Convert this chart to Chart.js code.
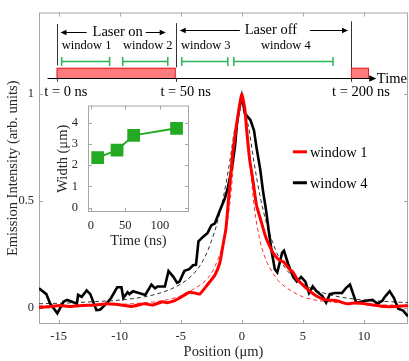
<!DOCTYPE html>
<html>
<head>
<meta charset="utf-8">
<script src="https://cdn.jsdelivr.net/npm/chart.js@4.4.0/dist/chart.umd.min.js"></script>
<style>
  html, body { margin: 0; padding: 0; background: #fff; }
  #wrap { position: relative; width: 409px; height: 361px; }
  #main { position: absolute; left: 0; top: 0; }
  #inset { position: absolute; left: 50px; top: 88px; }
</style>
</head>
<body>
<div id="wrap">
  <canvas id="main" width="409" height="361"></canvas>
  <canvas id="inset" width="148" height="162"></canvas>
</div>
<script>
// ---- data ----
const posTicks = [-15, -10, -5, 0, 5, 10];
const intensityTicks = [0, 0.5, 1];

// window 1 (red, solid)
const w1Pos = [-16.6, -15.5, -15, -14, -13, -12, -11, -10, -9, -8, -7.3, -6.5, -6.15, -5.6, -5.1, -4.3, -3.85, -3.45,
  -2.8, -2.2, -1.8, -1.55, -1.3, -1.1, -0.75, -0.4, -0.15, 0, 0.25, 0.4, 0.65, 0.9, 1.2, 1.5, 1.9, 2.1, 2.55, 3.1,
  3.4, 3.9, 4.2, 4.5, 5.3, 6.1, 6.9, 7.8, 8.6, 9.4, 10.5, 11.6, 12.7, 13.6];
const w1Val = [0.0, 0.005, 0.01, 0.005, 0.01, 0.012, 0.018, 0.013, 0.005, 0.018, 0.012, 0.027, 0.023, 0.03, 0.045, 0.072, 0.068, 0.063,
  0.108, 0.153, 0.21, 0.29, 0.37, 0.5, 0.72, 0.87, 0.96, 1.0, 0.93, 0.83, 0.69, 0.6, 0.48, 0.42, 0.34, 0.31, 0.257, 0.22,
  0.215, 0.18, 0.165, 0.135, 0.09, 0.054, 0.036, 0.032, 0.018, 0.023, 0.014, 0.005, 0.005, 0.009];

// window 4 (black, solid)
const w4Pos = [-16.6, -16.0, -15.7, -15.1, -14.6, -14.3, -13.9, -13.5, -13.4, -13.1, -12.7, -12.4, -11.9, -11.6, -11.1, -10.7,
  -10.2, -9.85, -9.7, -9.35, -9.2, -8.9, -7.9, -7.4, -7.1, -6.9, -6.3, -6.0, -5.6, -5.3, -5.1, -4.7, -4.3, -4.0, -3.75,
  -3.55, -3.2, -2.8, -2.5, -2.2, -1.8, -1.4, -1.15, -0.8, -0.57, -0.4, -0.25, 0, 0.25, 0.4, 0.7, 1.0, 1.2, 1.5, 1.75,
  2.0, 2.2, 2.45, 2.7, 2.9, 3.1, 3.3, 3.45, 3.8, 4.2, 4.5, 4.85, 5.2, 5.5, 5.8, 6.1, 6.6, 6.9, 7.2, 7.6, 8.2, 8.5, 8.85,
  9.3, 9.4, 10.1, 10.7, 11.1, 11.5, 11.7, 12.1, 12.45, 12.8, 13.2, 13.6];
const w4Val = [0.09, 0.063, 0.02, -0.027, 0.027, 0.036, 0.027, 0.018, 0.06, 0.05, 0.08, 0.063, -0.012, -0.01, 0.018, 0.045,
  0.095, 0.095, 0.045, 0.072, 0.063, 0.077, 0.059, 0.108, 0.09, 0.099, 0.099, 0.171, 0.144, 0.116, 0.122, 0.172, 0.18, 0.198, 0.2,
  0.31, 0.33, 0.35, 0.385, 0.395, 0.455, 0.51, 0.56, 0.66, 0.75, 0.86, 0.92, 0.99, 0.91, 0.9, 0.88, 0.83, 0.75, 0.65, 0.54,
  0.45, 0.36, 0.26, 0.18, 0.165, 0.21, 0.257, 0.266, 0.203, 0.144, 0.122, 0.144, 0.122, 0.068, 0.099, 0.077, 0.054, 0.023, 0.063, 0.068, 0.068, 0.09, 0.108,
  0.032, 0.023, 0.032, 0.036, 0.018, 0.032, 0.05, 0.077, 0.045, -0.005, -0.014, -0.041];

// fitted profiles (dashed)
const fit4Pos = [-16.6, -14, -12, -10, -8, -7, -6, -5, -4.5, -4, -3.5, -3, -2.5, -2, -1.5, -1, -0.5, 0,
  0.5, 1, 1.5, 2, 2.5, 3, 3.5, 4, 5, 6, 7, 8, 10, 12, 13.6];
const fit4Val = [0.018, 0.022, 0.028, 0.035, 0.05, 0.063, 0.082, 0.11, 0.13, 0.155, 0.19, 0.24, 0.31, 0.4, 0.52, 0.68, 0.86, 0.93,
  0.86, 0.68, 0.52, 0.4, 0.31, 0.24, 0.19, 0.155, 0.11, 0.082, 0.063, 0.05, 0.035, 0.028, 0.023];
const fit1Pos = [-16.6, -12, -10, -8, -7, -6, -5, -4, -3, -2.5, -2, -1.5, -1, -0.5, 0,
  0.5, 1, 1.5, 2, 2.5, 3, 4, 5, 6, 7, 8, 10, 12, 13.6];
const fit1Val = [0.008, 0.012, 0.015, 0.022, 0.028, 0.038, 0.055, 0.085, 0.125, 0.16, 0.22, 0.31, 0.48, 0.78, 0.98,
  0.78, 0.48, 0.31, 0.22, 0.165, 0.125, 0.08, 0.05, 0.035, 0.028, 0.022, 0.015, 0.012, 0.01];

// inset: width vs time
const insetTime = [10, 38, 62, 124];
const insetWidth = [2.35, 2.7, 3.4, 3.73];
const insetTimeTicks = [0, 50, 100];
const insetWidthTicks = [0, 1, 2, 3, 4];

// ---- style ----
const SERIF = "'Liberation Serif', 'Times New Roman', serif";
const frameColor = '#a6a6a6';
const labelColor = '#262626';
const red = '#ff0000';
const green = '#22aa22';
const bracketGreen = '#2db35a';

const pts = (xs, ys) => xs.map((x, i) => ({ x, y: ys[i] }));

// timing diagram, placed in the axes' own units
const diagram = {
  axisY: 1.077, axisFrom: -15.9, axisTo: 11.0,
  pulses: [[-15.16, -5.41], [8.93, 10.41]], pulseTop: 1.124,
  marks: [[-15.16, 1.329, 1.135], [-5.41, 1.333, 1.126], [8.93, 1.342, 1.121]],
  laserOn: { x: -10.16, y: 1.293, arrows: [[-12.7, -14.84], [-7.87, -6.23]] },
  laserOff: { x: 2.38, y: 1.302, arrows: [[-0.16, -5.08], [5.57, 8.69]] },
  windows: [
    { label: 'window 1', x: -12.7, from: -14.75, to: -10.82 },
    { label: 'window 2', x: -7.7, from: -9.75, to: -6.06 },
    { label: 'window 3', x: -2.95, from: -4.92, to: -1.15 },
    { label: 'window 4', x: 3.6, from: -0.66, to: 7.46 }
  ],
  windowLabelY: 1.225, bracketY: 1.158,
  times: [['t = 0 ns', -14.4], ['t = 50 ns', -4.6], ['t = 200 ns', 9.75]], timesY: 1.009,
  timeLabelX: 11.05
};

function arrow(ctx, x1, y1, x2, y2, head) {
  const ang = Math.atan2(y2 - y1, x2 - x1);
  ctx.beginPath();
  ctx.moveTo(x1, y1);
  ctx.lineTo(x2 - Math.cos(ang) * head * 0.8, y2 - Math.sin(ang) * head * 0.8);
  ctx.stroke();
  ctx.beginPath();
  ctx.moveTo(x2, y2);
  ctx.lineTo(x2 - head * Math.cos(ang) + head * 0.45 * Math.sin(ang), y2 - head * Math.sin(ang) - head * 0.45 * Math.cos(ang));
  ctx.lineTo(x2 - head * Math.cos(ang) - head * 0.45 * Math.sin(ang), y2 - head * Math.sin(ang) + head * 0.45 * Math.cos(ang));
  ctx.closePath();
  ctx.fill();
}

// gray box with inward ticks, like the original axes
const boxPlugin = {
  id: 'box',
  beforeDatasetsDraw(chart) {
    const { ctx, chartArea: a, scales: { x, y } } = chart;
    const len = 4;
    ctx.save();
    ctx.strokeStyle = frameColor;
    ctx.lineWidth = 1;
    ctx.strokeRect(a.left + 0.5, a.top + 0.5, a.right - a.left - 1, a.bottom - a.top - 1);
    ctx.beginPath();
    x.ticks.forEach(t => {
      const px = Math.round(x.getPixelForValue(t.value)) + 0.5;
      ctx.moveTo(px, a.bottom); ctx.lineTo(px, a.bottom - len);
      ctx.moveTo(px, a.top); ctx.lineTo(px, a.top + len);
    });
    y.ticks.forEach(t => {
      const py = Math.round(y.getPixelForValue(t.value)) + 0.5;
      ctx.moveTo(a.left, py); ctx.lineTo(a.left + len, py);
      ctx.moveTo(a.right, py); ctx.lineTo(a.right - len, py);
    });
    ctx.stroke();
    ctx.restore();
  }
};

// timing sketch on top and the in-plot legend
const overlayPlugin = {
  id: 'overlay',
  afterDraw(chart) {
    const { ctx, scales: { x, y } } = chart;
    const X = v => x.getPixelForValue(v);
    const Y = v => y.getPixelForValue(v);
    const d = diagram;
    ctx.save();

    // laser pulses
    ctx.fillStyle = '#ff7b7b';
    ctx.strokeStyle = '#e8202a';
    ctx.lineWidth = 1;
    d.pulses.forEach(([a, b]) => {
      ctx.fillRect(X(a), Y(d.pulseTop), X(b) - X(a), Y(d.axisY) - Y(d.pulseTop));
      ctx.strokeRect(X(a) + 0.5, Y(d.pulseTop) + 0.5, X(b) - X(a) - 1, Y(d.axisY) - Y(d.pulseTop));
    });

    // time axis
    ctx.strokeStyle = '#000';
    ctx.fillStyle = '#000';
    ctx.lineWidth = 1;
    arrow(ctx, X(d.axisFrom), Math.round(Y(d.axisY)) + 0.5, X(d.axisTo), Math.round(Y(d.axisY)) + 0.5, 7);
    ctx.beginPath();
    d.marks.forEach(([mx, top, bot]) => {
      const px = Math.round(X(mx)) + 0.5;
      ctx.moveTo(px, Y(top)); ctx.lineTo(px, Y(bot));
      ctx.moveTo(px, Y(d.axisY)); ctx.lineTo(px, Y(d.axisY) + 4);
    });
    ctx.strokeStyle = '#333';
    ctx.stroke();

    ctx.font = '14.5px ' + SERIF;
    ctx.textBaseline = 'middle';
    ctx.textAlign = 'left';
    ctx.fillText('Time', X(d.timeLabelX), Y(d.axisY) + 1);

    // laser on / off
    ctx.textAlign = 'center';
    ctx.fillText('Laser on', X(d.laserOn.x), Y(d.laserOn.y));
    ctx.fillText('Laser off', X(d.laserOff.x), Y(d.laserOff.y));
    ctx.strokeStyle = '#000';
    [d.laserOn, d.laserOff].forEach(g => {
      g.arrows.forEach(([from, to]) => arrow(ctx, X(from), Math.round(Y(g.y)) + 0.5, X(to), Math.round(Y(g.y)) + 0.5, 6));
    });

    // windows
    ctx.font = '12.5px ' + SERIF;
    d.windows.forEach(w => {
      ctx.fillStyle = '#000';
      ctx.fillText(w.label, X(w.x), Y(d.windowLabelY));
      const by = Math.round(Y(d.bracketY)) + 0.5;
      ctx.strokeStyle = bracketGreen;
      ctx.lineWidth = 1.5;
      ctx.beginPath();
      ctx.moveTo(X(w.from), by); ctx.lineTo(X(w.to), by);
      ctx.moveTo(X(w.from), by - 4.5); ctx.lineTo(X(w.from), by + 4.5);
      ctx.moveTo(X(w.to), by - 4.5); ctx.lineTo(X(w.to), by + 4.5);
      ctx.stroke();
    });

    // time stamps
    ctx.fillStyle = '#000';
    ctx.font = '14.5px ' + SERIF;
    d.times.forEach(([txt, tx]) => ctx.fillText(txt, X(tx), Y(d.timesY)));

    // legend
    const items = chart.data.datasets.filter(ds => ds.inLegend);
    const legendY = [0.73, 0.585];
    ctx.textAlign = 'left';
    ctx.font = '14.5px ' + SERIF;
    items.forEach((ds, i) => {
      const ly = Y(legendY[i]);
      ctx.strokeStyle = ds.borderColor;
      ctx.lineWidth = 3;
      ctx.beginPath();
      ctx.moveTo(X(4.18), ly); ctx.lineTo(X(5.33), ly);
      ctx.stroke();
      ctx.fillStyle = '#000';
      ctx.fillText(ds.label, X(5.57), ly + 1);
    });
    ctx.restore();
  }
};

const tickFont = { family: SERIF, size: 12.5 };
const titleFont = { family: SERIF, size: 14.5 };

new Chart(document.getElementById('main'), {
  type: 'line',
  data: {
    datasets: [
      { label: 'window 1', inLegend: true, data: pts(w1Pos, w1Val), borderColor: red, borderWidth: 3, pointRadius: 0, tension: 0.15 },
      { label: 'window 4', inLegend: true, data: pts(w4Pos, w4Val), borderColor: '#000', borderWidth: 2.6, pointRadius: 0, tension: 0 },
      { label: 'fit 4', data: pts(fit4Pos, fit4Val), borderColor: '#333', borderWidth: 1, borderDash: [4, 3], pointRadius: 0, cubicInterpolationMode: 'monotone' },
      { label: 'fit 1', data: pts(fit1Pos, fit1Val), borderColor: '#ff3030', borderWidth: 1, borderDash: [4, 3], pointRadius: 0, cubicInterpolationMode: 'monotone' }
    ]
  },
  options: {
    responsive: false,
    animation: false,
    layout: { padding: { left: 0, right: 1, top: 0, bottom: 0 } },
    plugins: { legend: { display: false }, tooltip: { enabled: false } },
    scales: {
      x: {
        type: 'linear', min: -16.6, max: 13.6,
        grid: { display: false, drawTicks: false },
        border: { display: false },
        ticks: { padding: 5, font: tickFont, color: labelColor, callback: v => String(v) },
        title: { display: true, text: 'Position (μm)', font: titleFont, color: labelColor, padding: { top: 0, bottom: 0 } },
        afterBuildTicks: s => { s.ticks = posTicks.map(v => ({ value: v })); },
        afterFit: s => { s.height = 37; }
      },
      y: {
        type: 'linear', min: -0.077, max: 1.383,
        grid: { display: false, drawTicks: false },
        border: { display: false },
        ticks: { padding: 5, font: tickFont, color: labelColor, callback: v => String(v) },
        title: { display: true, text: 'Emission Intensity (arb. units)', font: titleFont, color: labelColor, padding: { top: 4, bottom: 0 } },
        afterBuildTicks: s => { s.ticks = intensityTicks.map(v => ({ value: v })); },
        afterFit: s => { s.width = 39; }
      }
    }
  },
  plugins: [boxPlugin, overlayPlugin]
});

new Chart(document.getElementById('inset'), {
  type: 'line',
  data: {
    datasets: [{
      label: 'Width',
      data: pts(insetTime, insetWidth),
      borderColor: green, backgroundColor: green, borderWidth: 2,
      pointStyle: 'rect', pointRadius: 9, pointBorderWidth: 0, tension: 0
    }]
  },
  options: {
    responsive: false,
    animation: false,
    layout: { padding: { left: 0, right: 4, top: 7, bottom: 0 } },
    plugins: { legend: { display: false }, tooltip: { enabled: false } },
    scales: {
      x: {
        type: 'linear', min: -4, max: 142,
        grid: { display: false, drawTicks: false },
        border: { display: false },
        ticks: { padding: 6, font: tickFont, color: labelColor, callback: v => String(v) },
        title: { display: true, text: 'Time (ns)', font: titleFont, color: labelColor, padding: { top: 0, bottom: 0 } },
        afterBuildTicks: s => { s.ticks = insetTimeTicks.map(v => ({ value: v })); },
        afterFit: s => { s.height = 38; }
      },
      y: {
        type: 'linear', min: -0.2, max: 4.8,
        grid: { display: false, drawTicks: false },
        border: { display: false },
        ticks: { padding: 10, font: tickFont, color: labelColor, callback: v => String(v) },
        title: { display: true, text: 'Width (μm)', font: titleFont, color: labelColor, padding: { top: 4, bottom: 0 } },
        afterBuildTicks: s => { s.ticks = insetWidthTicks.map(v => ({ value: v })); },
        afterFit: s => { s.width = 38; }
      }
    }
  },
  plugins: [boxPlugin]
});
</script>
</body>
</html>
